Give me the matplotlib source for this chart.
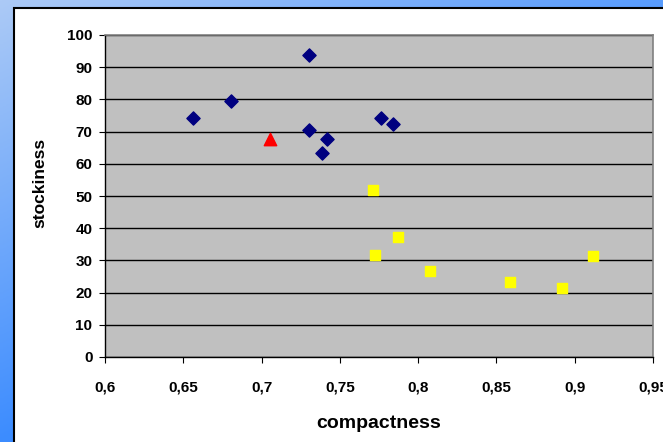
import numpy as np
import matplotlib
matplotlib.use('Agg')
import matplotlib.pyplot as plt
from matplotlib.patches import Rectangle
from matplotlib.ticker import FuncFormatter, MultipleLocator

plt.rcParams['font.family'] = ['Liberation Sans', 'DejaVu Sans']

# group 1 (navy diamonds)
diamond_x = [0.656, 0.6805, 0.730, 0.730, 0.742, 0.7386, 0.776, 0.784]
diamond_y = [74.2, 79.6, 93.9, 70.6, 67.8, 63.3, 74.1, 72.3]
# group 2 (yellow squares)
square_x = [0.771, 0.7873, 0.7726, 0.8075, 0.8584, 0.892, 0.9116]
square_y = [51.8, 37.2, 31.7, 26.6, 23.2, 21.5, 31.4]
# unknown sample (red triangle)
triangle_x = [0.7056]
triangle_y = [67.6]

W, H = 663, 442
fig = plt.figure(figsize=(W / 100, H / 100), dpi=100)

# blue slide background
bg = fig.add_axes([0, 0, 1, 1])
gx, gy = np.meshgrid(np.linspace(0, 1, 200), np.linspace(0, 1, 200))
t = np.clip(gx * 0.75 + gy * 1.0, 0, 1)
light = np.array([172, 202, 246]) / 255
deep = np.array([60, 140, 255]) / 255
img = light[None, None, :] * (1 - t[..., None]) + deep[None, None, :] * t[..., None]
bg.imshow(img, extent=[0, 1, 0, 1], aspect='auto', origin='upper')
bg.set_axis_off()

# white chart area
fig.patches.append(Rectangle((14 / W, -0.1), 1.1, (H - 8) / H + 0.1,
                             transform=fig.transFigure, facecolor='white',
                             edgecolor='black', linewidth=1.5, zorder=1))

ax = fig.add_axes([105 / W, 1 - 357 / H, 548 / W, 322 / H])
ax.set_facecolor('#c0c0c0')
ax.set_zorder(2)

ax.scatter(diamond_x, diamond_y, marker='D', s=45, color='#000080', zorder=3)
ax.scatter(square_x, square_y, marker='s', s=58, color='#ffff00', zorder=3)
ax.scatter(triangle_x, triangle_y, marker='^', s=80, color='#ff0000', zorder=3)

ax.set_xlim(0.6, 0.95)
ax.set_ylim(0, 100)
ax.xaxis.set_major_locator(MultipleLocator(0.05))
ax.yaxis.set_major_locator(MultipleLocator(10))
ax.xaxis.set_major_formatter(FuncFormatter(lambda v, p: f'{v:.2f}'.rstrip('0').rstrip('.').replace('.', ',')))
ax.yaxis.grid(True, color='black', linewidth=1)
ax.set_axisbelow(True)

for s in ['top', 'right']:
    ax.spines[s].set_color('#808080')
    ax.spines[s].set_linewidth(1.2)
for s in ['left', 'bottom']:
    ax.spines[s].set_color('black')
    ax.spines[s].set_linewidth(1)

ax.tick_params(axis='y', direction='out', length=4, pad=5, labelsize=11)
ax.tick_params(axis='x', direction='out', length=4, pad=13, labelsize=11)
for lab in ax.get_xticklabels() + ax.get_yticklabels():
    lab.set_fontweight('bold')

ax.set_xlabel('compactness', fontsize=14, fontweight='bold')
ax.set_ylabel('stockiness', fontsize=12.5, fontweight='bold')
ax.xaxis.set_label_coords(0.5, -0.18)
ax.yaxis.set_label_coords(-0.106, 0.54)

fig.savefig('out.png', dpi=100)
